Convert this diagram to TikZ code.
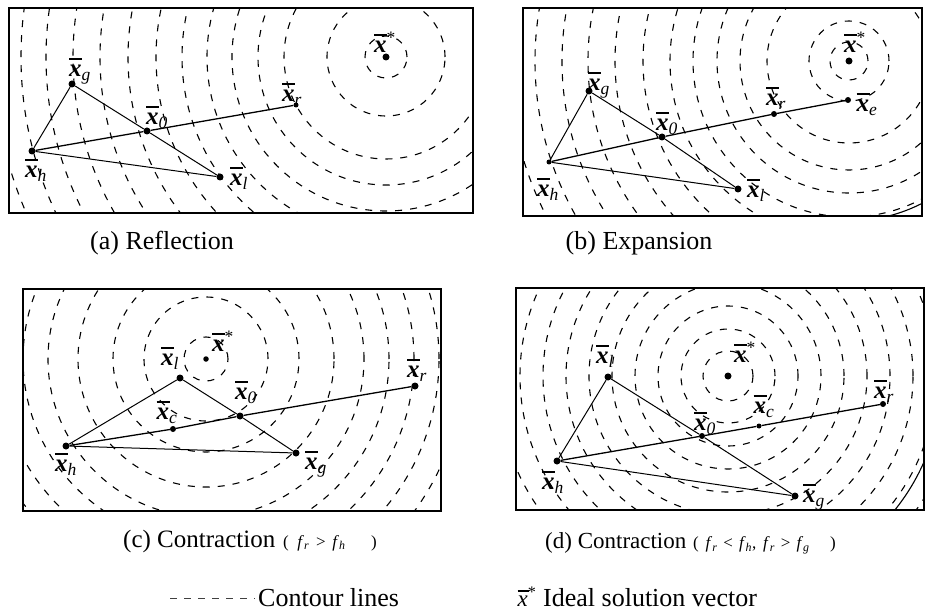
\documentclass[tikz,border=0pt]{standalone}
\usepackage{fontspec}
\setmainfont{Liberation Serif}
\newcommand{\xbv}{\makebox[0pt][l]{\raisebox{0.66em}{\rule{0.52em}{0.08em}}}\textbf{\textit{x}}}
\newcommand{\xlab}[1]{\xbv\textsubscript{\textit{#1}}}
\begin{document}
\begin{tikzpicture}[x=1pt,y=-1pt,
  contourline/.style={dash pattern=on 7pt off 8pt, line width=1.1pt},
  panelframe/.style={line width=1.4pt},
  segline/.style={line width=1pt},
  mainline/.style={line width=1.3pt},
  ptdot/.style={circle, fill, inner sep=0pt, minimum size=7pt},
  sptdot/.style={circle, fill, inner sep=0pt, minimum size=5pt},
  lab/.style={font=\fontsize{25}{27}\selectfont, inner sep=0pt},
  captext/.style={font=\fontsize{26}{28}\selectfont, inner sep=0pt},
  smalltxt/.style={font=\fontsize{17}{19}\selectfont, inner sep=0pt}]
\useasboundingbox (0,0) rectangle (927,615);

% ---------- (a) ----------
\begin{scope}
\clip (9,8) rectangle (473,213);
\foreach \r in {21,59,102,128,154,179,204,230,258,286,313,340,365,392}
  \draw[contourline] (386,57) circle[radius=\r pt];
\end{scope}
\draw[panelframe] (9,8) rectangle (473,213);
\node[ptdot] (ag) at (72,84) {};
\node[ptdot] (ah) at (32,151) {};
\node[ptdot] (a0) at (147,131) {};
\node[sptdot] (ar) at (296,105) {};
\node[ptdot] (al) at (220,177) {};
\node[ptdot] (as) at (386,57) {};
\draw[segline] (ah) -- (ag) -- (a0) -- (al) -- (ah);
\draw[mainline] (ah) -- (a0) -- (ar);
\node[lab] (agl) at (80,71) {\xlab{g}};
\node[lab] (ahl) at (36,170) {\xlab{h}};
\node[lab] (a0l) at (157,117) {\xlab{0}};
\node[lab] (arl) at (292,94) {\xlab{r}};
\node[lab] (all) at (239,178) {\xlab{l}};
\node[lab] (asl) at (385,42) {\xbv\textsuperscript{*}};
\node[captext] (acap) at (162,243) {(a) Reflection};

% ---------- (b) ----------
\begin{scope}
\clip (523,8) rectangle (922,216);
\foreach \r in {19,40,82,109,132,156,179,206,234,261,287,314,340,366}
  \draw[contourline] (849,61) circle[radius=\r pt];
\draw[line width=1.1pt] ([shift={(-61:160pt)}]849pt,-61pt) arc[start angle=-61, end angle=-78, radius=160pt];
\end{scope}
\draw[panelframe] (523,8) rectangle (922,216);
\node[ptdot] (bg) at (589,91) {};
\node[sptdot] (bh) at (549,162) {};
\node[ptdot] (b0) at (662,137) {};
\node[ptdot, minimum size=6pt] (br) at (774,114) {};
\node[ptdot, minimum size=6pt] (be) at (848,100) {};
\node[ptdot] (bl) at (738,189) {};
\node[ptdot] (bs) at (849,61) {};
\draw[segline] (bh) -- (bg) -- (b0) -- (bl) -- (bh);
\draw[mainline] (bh) -- (b0) -- (br) -- (be);
\node[lab] (bgl) at (599,85) {\xlab{g}};
\node[lab] (bhl) at (548,189) {\xlab{h}};
\node[lab] (b0l) at (667,123) {\xlab{0}};
\node[lab] (brl) at (776,98) {\xlab{r}};
\node[lab] (bel) at (867,104) {\xlab{e}};
\node[lab] (bll) at (756,190) {\xlab{l}};
\node[lab] (bsl) at (855,42) {\xbv\textsuperscript{*}};
\node[captext] (bcap) at (639,243) {(b) Expansion};

% ---------- (c) ----------
\begin{scope}
\clip (23,289) rectangle (441,511);
\foreach \r in {22,62,93,128,158,183,208,233,258}
  \draw[contourline] (206,359) circle[radius=\r pt];
\end{scope}
\draw[panelframe] (23,289) rectangle (441,511);
\node[ptdot] (cl) at (180,378) {};
\node[ptdot] (ch) at (66,446) {};
\node[ptdot, minimum size=6pt] (cc) at (173,429) {};
\node[ptdot] (c0) at (240,416) {};
\node[ptdot] (cr) at (415,386) {};
\node[ptdot] (cg) at (296,453) {};
\node[ptdot, minimum size=5.5pt] (cs) at (206,359) {};
\draw[segline] (ch) -- (cl) -- (c0) -- (cg) -- (ch);
\draw[mainline] (ch) -- (cc) -- (c0) -- (cr);
\node[lab] (cll) at (170,358) {\xlab{l}};
\node[lab] (csl) at (223,341) {\xbv\textsuperscript{*}};
\node[lab] (c0l) at (246,392) {\xlab{0}};
\node[lab] (ccl) at (167,412) {\xlab{c}};
\node[lab] (crl) at (417,370) {\xlab{r}};
\node[lab] (chl) at (66,464) {\xlab{h}};
\node[lab] (cgl) at (316,464) {\xlab{g}};
\node[captext, font=\fontsize{25}{27}\selectfont, anchor=west] (ccap) at (123,541) {(c) Contraction};
\node[smalltxt, anchor=west] (ccap2) at (283,543) {(\hspace{0.5em}\textit{f}\textsubscript{\textit{r}}\hspace{0.4em}>\hspace{0.4em}\textit{f}\textsubscript{\textit{h}}\hspace{1.5em})};

% ---------- (d) ----------
\begin{scope}
\clip (516,288) rectangle (924,510);
\foreach \r in {25,47,70,93,116,139,162,185,208,231,254}
  \draw[contourline] (728,376) circle[radius=\r pt];
\draw[line width=1.1pt] ([shift={(-24:214pt)}]728pt,-376pt) arc[start angle=-24, end angle=-40, radius=214pt];
\end{scope}
\draw[panelframe] (516,288) rectangle (924,510);
\node[ptdot] (dl) at (608,377) {};
\node[ptdot] (dh) at (557,461) {};
\node[ptdot, minimum size=6pt] (d0) at (702,436) {};
\node[sptdot] (dc) at (759,426) {};
\node[ptdot, minimum size=6pt] (dr) at (883,404) {};
\node[ptdot] (dg) at (795,496) {};
\node[ptdot] (ds) at (728,376) {};
\draw[segline] (dh) -- (dl) -- (d0) -- (dg) -- (dh);
\draw[mainline] (dh) -- (d0) -- (dc) -- (dr);
\node[lab] (dll) at (605,356) {\xlab{l}};
\node[lab] (dsl) at (745,352) {\xbv\textsuperscript{*}};
\node[lab] (drl) at (884,391) {\xlab{r}};
\node[lab] (dcl) at (764,406) {\xlab{c}};
\node[lab] (d0l) at (705,423) {\xlab{0}};
\node[lab] (dhl) at (553,482) {\xlab{h}};
\node[lab] (dgl) at (814,497) {\xlab{g}};
\node[captext, font=\fontsize{23}{25}\selectfont, anchor=west] (dcap) at (545,543) {(d) Contraction};
\node[smalltxt, anchor=west] (dcap2) at (693,545) {(\hspace{0.4em}\textit{f}\textsubscript{\textit{r}}\hspace{0.35em}<\hspace{0.35em}\textit{f}\textsubscript{\textit{h}},\hspace{0.4em}\textit{f}\textsubscript{\textit{r}}\hspace{0.35em}>\hspace{0.35em}\textit{f}\textsubscript{\textit{g}}\hspace{1.2em})};

% ---------- legend ----------
\coordinate (lga) at (170,598);
\coordinate (lgb) at (255,598);
\draw[dash pattern=on 7pt off 7pt, line width=1pt, black!75] (lga) -- (lgb);
\node[captext, anchor=west] (lgt) at (258,598) {Contour lines};
\node[font=\fontsize{23}{25}\selectfont, inner sep=0pt] (lgx) at (527,597) {\makebox[0pt][l]{\raisebox{0.66em}{\rule{0.5em}{0.06em}}}\textit{x}\textsuperscript{*}};
\node[captext, anchor=west] (lgi) at (543,598) {Ideal solution vector};
\end{tikzpicture}
\end{document}
